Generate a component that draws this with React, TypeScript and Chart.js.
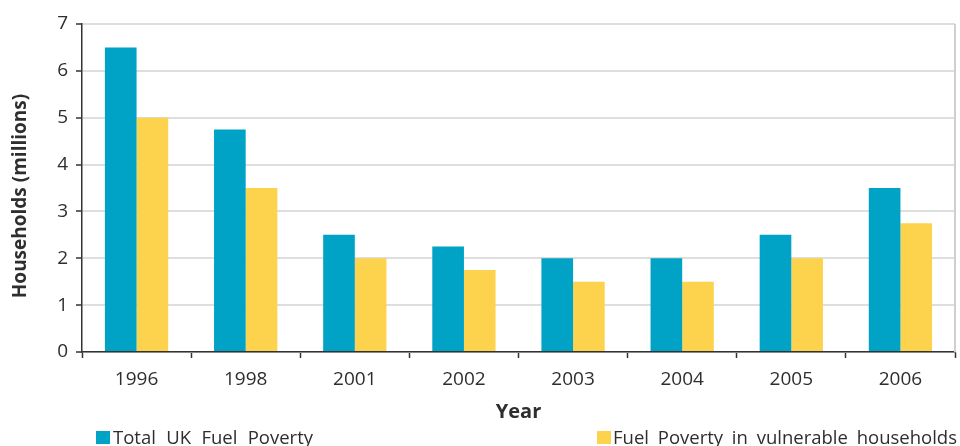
import React, { useEffect, useRef } from "react";
import { Chart, registerables } from "chart.js";

Chart.register(...registerables);

const categories = ["1996", "1998", "2001", "2002", "2003", "2004", "2005", "2006"];
const totalUK = [6.5, 4.75, 2.5, 2.25, 2, 2, 2.5, 3.5];
const vulnerable = [5, 3.5, 2, 1.75, 1.5, 1.5, 2, 2.75];
const seriesNames = ["Total  UK  Fuel  Poverty", "Fuel  Poverty  in  vulnerable  households"];
const yTitle = "Households (millions)";
const xTitle = "Year";

const TEAL = "#00a3c5";
const YELLOW = "#fdd34e";
const TEXT = "#2e2e2e";
const FONT = "'Open Sans', 'Noto Sans', sans-serif";

const extrasPlugin = {
  id: "extras",
  afterDraw(chart: any) {
    const ctx = chart.ctx;
    const area = chart.chartArea;
    ctx.save();
    // right border line
    ctx.strokeStyle = "#d0d0d0";
    ctx.lineWidth = 2;
    ctx.beginPath();
    ctx.moveTo(area.right, area.top);
    ctx.lineTo(area.right, area.bottom);
    ctx.stroke();

    // y title
    ctx.fillStyle = TEXT;
    ctx.font = `bold 19px ${FONT}`;
    ctx.textAlign = "center";
    ctx.textBaseline = "middle";
    ctx.translate(21, (area.top + area.bottom) / 2 + 8);
    ctx.rotate(-Math.PI / 2);
    ctx.fillText(yTitle, 0, 0);
    ctx.restore();

    // legend
    ctx.save();
    const items = [
      { color: TEAL, label: seriesNames[0], sq: 96, tx0: 113, tx1: 313 },
      { color: YELLOW, label: seriesNames[1], sq: 597, tx0: 613, tx1: 957 },
    ];
    ctx.font = `18.5px ${FONT}`;
    ctx.textBaseline = "alphabetic";
    ctx.textAlign = "left";
    for (const it of items) {
      ctx.fillStyle = it.color;
      ctx.fillRect(it.sq, 431, 14, 13);
      const words = it.label.split(/\s+/);
      const widths = words.map((w: string) => ctx.measureText(w).width);
      const total = widths.reduce((a: number, b: number) => a + b, 0);
      const gap = (it.tx1 - it.tx0 - total) / (words.length - 1);
      let x = it.tx0;
      ctx.fillStyle = TEXT;
      words.forEach((w: string, i: number) => {
        ctx.fillText(w, x, 444);
        x += widths[i] + gap;
      });
    }
    ctx.restore();
  },
};

export default function App() {
  const ref = useRef<HTMLCanvasElement>(null);
  useEffect(() => {
    if (!ref.current) return;
    const chart = new Chart(ref.current, {
      type: "bar",
      data: {
        labels: categories,
        datasets: [
          { label: seriesNames[0], data: totalUK, backgroundColor: TEAL, borderWidth: 0 },
          { label: seriesNames[1], data: vulnerable, backgroundColor: YELLOW, borderWidth: 0 },
        ],
      },
      options: {
        animation: false,
        responsive: false,
        maintainAspectRatio: false,
        layout: { padding: { left: 0, right: 5, top: 24, bottom: 22 } },
        plugins: {
          legend: { display: false },
          tooltip: { enabled: false },
        },
        datasets: { bar: { categoryPercentage: 0.58, barPercentage: 1 } } as any,
        scales: {
          x: {
            grid: {
              display: true,
              drawOnChartArea: false,
              drawTicks: true,
              tickLength: 6,
              tickColor: "#333",
              tickWidth: 1.5,
              offset: true,
            },
            border: { display: true, color: "#333", width: 1.5 },
            ticks: { font: { family: FONT, size: 19 }, color: TEXT, padding: 10 },
            title: {
              display: true,
              text: xTitle,
              font: { family: FONT, size: 20, weight: "bold" },
              color: TEXT,
              padding: { top: 0, bottom: 0 },
            },
            afterFit(scale: any) {
              scale.height = 72;
            },
          },
          y: {
            min: 0,
            max: 7,
            ticks: { stepSize: 1, font: { family: FONT, size: 19 }, color: TEXT, padding: 8 },
            grid: {
              color: "#dedede",
              lineWidth: 2,
              tickColor: "#333",
              tickWidth: 1.5,
              tickLength: 6,
            },
            border: { display: true, color: "#333", width: 1.5 },
            afterFit(scale: any) {
              scale.width = 82;
            },
          },
        },
      },
      plugins: [extrasPlugin],
    });
    return () => chart.destroy();
  }, []);
  return (
    <div style={{ position: "fixed", left: 0, top: 0, width: 960, height: 446, background: "#fff" }}>
      <canvas ref={ref} width={960} height={446} style={{ display: "block" }} />
    </div>
  );
}
